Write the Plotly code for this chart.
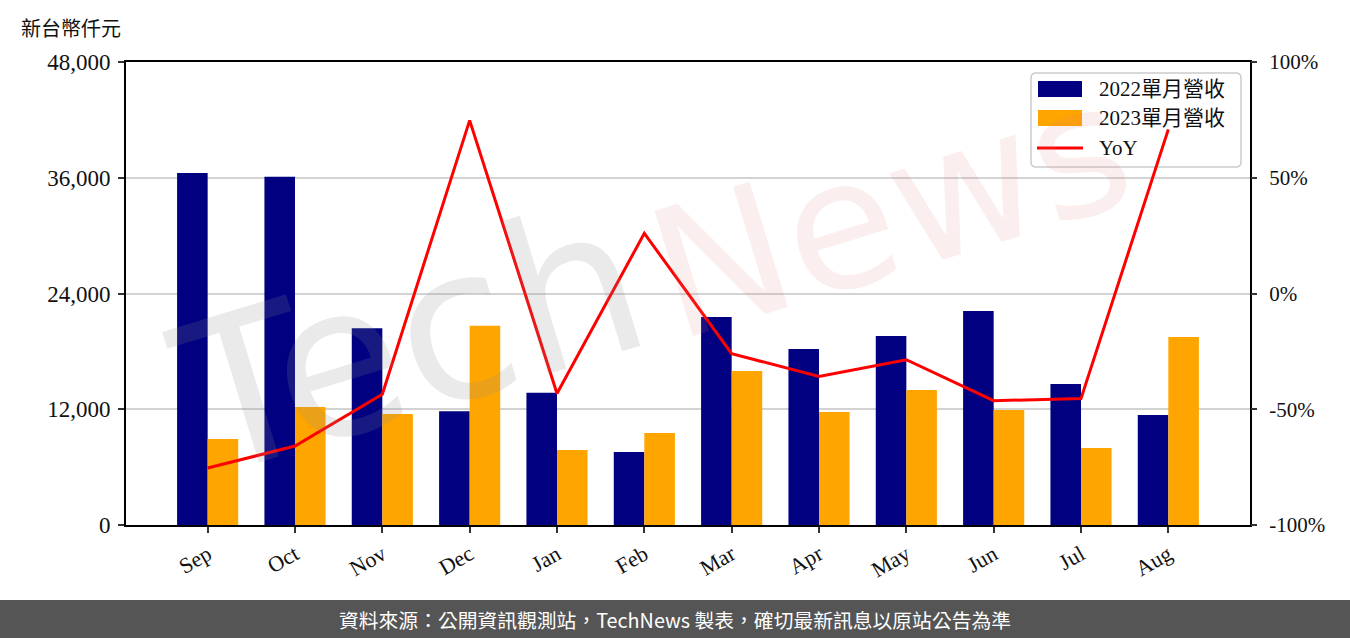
import plotly.graph_objects as go

months = ["Sep", "Oct", "Nov", "Dec", "Jan", "Feb", "Mar", "Apr", "May", "Jun", "Jul", "Aug"]
rev_2022 = [36500, 36100, 20400, 11800, 13700, 7570, 21560, 18250, 19600, 22190, 14620, 11400]
rev_2023 = [8920, 12230, 11510, 20660, 7780, 9540, 15970, 11720, 14000, 11920, 7980, 19490]
yoy = [-75.4, -65.9, -43.5, 74.8, -43.2, 26.0, -26.0, -35.8, -28.6, -46.3, -45.4, 70.9]

left_ticks = [0, 12000, 24000, 36000, 48000]
left_labels = ["0", "12,000", "24,000", "36,000", "48,000"]
right_ticks = [-100, -50, 0, 50, 100]
right_labels = ["-100%", "-50%", "0%", "50%", "100%"]
legend_names = ["2022單月營收", "2023單月營收", "YoY"]

SERIF = "Liberation Serif, Noto Sans CJK TC, serif"
NAVY, ORANGE, RED = "#000080", "#FFA500", "#FF0000"
x = list(range(len(months)))

fig = go.Figure()
fig.add_trace(go.Bar(x=x, y=rev_2022, name=legend_names[0], marker=dict(color=NAVY, line=dict(width=0))))
fig.add_trace(go.Bar(x=x, y=rev_2023, name=legend_names[1], marker=dict(color=ORANGE, line=dict(width=0))))
fig.add_trace(go.Scatter(x=x, y=yoy, name=legend_names[2], mode="lines",
                         line=dict(color=RED, width=3), yaxis="y2"))

W, H = 1350, 638
L, R, T, B = 126, 100, 62, 113
pw, ph = W - L - R, H - T - B

def px(p):
    return (p - L) / pw

def py(p):
    return (H - B - p) / ph

fig.update_layout(
    width=W, height=H,
    margin=dict(l=L, r=R, t=T, b=B),
    plot_bgcolor="white", paper_bgcolor="white",
    barmode="group", bargap=0.3, bargroupgap=0,
    font=dict(family=SERIF, size=22, color="#111111"),
    showlegend=False,
    xaxis=dict(
        range=[-0.935, 11.935], tickmode="array", tickvals=x, ticktext=months,
        tickangle=-30, showline=True, linecolor="black", linewidth=2, mirror=True,
        ticks="outside", ticklen=6, tickwidth=1.5, tickcolor="#333333",
        showgrid=False, zeroline=False, tickfont=dict(family=SERIF, size=22),
    ),
    yaxis=dict(
        range=[0, 48000], tickmode="array", tickvals=left_ticks, ticktext=left_labels,
        showline=True, linecolor="black", linewidth=2, mirror=True,
        ticks="outside", ticklen=6, tickwidth=1.5, tickcolor="#333333",
        showgrid=True, gridcolor="#d3d3d3", gridwidth=1.5, zeroline=False,
        tickfont=dict(family=SERIF, size=23), ticklabelstandoff=3,
    ),
    yaxis2=dict(
        range=[-100, 100], overlaying="y", side="right", tickmode="array",
        tickvals=right_ticks, ticktext=right_labels, showgrid=False, zeroline=False,
        ticks="outside", ticklen=6, tickwidth=1.5, tickcolor="#333333",
        showline=False, tickfont=dict(family=SERIF, size=21), ticklabelstandoff=8,
    ),
)

# watermark
fig.add_annotation(xref="paper", yref="paper", x=px(410), y=py(340), xanchor="center", yanchor="middle",
                   text="Tech", showarrow=False, textangle=-17,
                   font=dict(family="DejaVu Sans", size=210, color="rgba(140,140,140,0.18)"))
fig.add_annotation(xref="paper", yref="paper", x=px(890), y=py(210), xanchor="center", yanchor="middle",
                   text="News", showarrow=False, textangle=-17,
                   font=dict(family="DejaVu Sans", size=180, color="rgba(225,120,120,0.13)"))

# legend (drawn manually to match wide swatches); kept below the YoY line like the original
x0, x1, y0, y1, r = 1031, 1241, 73, 167, 5
path = (f"M {px(x0+r)},{py(y0)} L {px(x1-r)},{py(y0)} Q {px(x1)},{py(y0)} {px(x1)},{py(y0+r)} "
        f"L {px(x1)},{py(y1-r)} Q {px(x1)},{py(y1)} {px(x1-r)},{py(y1)} "
        f"L {px(x0+r)},{py(y1)} Q {px(x0)},{py(y1)} {px(x0)},{py(y1-r)} "
        f"L {px(x0)},{py(y0+r)} Q {px(x0)},{py(y0)} {px(x0+r)},{py(y0)} Z")
fig.add_shape(type="path", xref="paper", yref="paper", path=path,
              fillcolor="rgba(255,255,255,0.8)", line=dict(color="#cccccc", width=1.5), layer="below")
fig.add_shape(type="rect", xref="paper", yref="paper", x0=px(1038), x1=px(1082), y0=py(97), y1=py(81),
              fillcolor=NAVY, line=dict(width=0), layer="below")
fig.add_shape(type="rect", xref="paper", yref="paper", x0=px(1038), x1=px(1082), y0=py(126), y1=py(110),
              fillcolor=ORANGE, line=dict(width=0), layer="below")
fig.add_shape(type="line", xref="paper", yref="paper", x0=px(1037), x1=px(1083), y0=py(148), y1=py(148),
              line=dict(color=RED, width=3), layer="below")
for name, yc in zip(legend_names, [89, 118, 148]):
    fig.add_annotation(xref="paper", yref="paper", x=px(1097), y=py(yc), text=name,
                       showarrow=False, xanchor="left", yanchor="middle",
                       font=dict(family=SERIF, size=21, color="#111111"))

# footer band
fig.add_shape(type="rect", xref="paper", yref="paper",
              x0=px(0), x1=px(W), y0=py(H), y1=py(600),
              fillcolor="#555555", line=dict(width=0), layer="above")
fig.add_annotation(xref="paper", yref="paper", x=px(675), y=py(619),
                   text="資料來源：公開資訊觀測站，TechNews 製表，確切最新訊息以原站公告為準",
                   showarrow=False, font=dict(family="Noto Sans CJK TC, sans-serif", size=19.8, color="white"),
                   xanchor="center", yanchor="middle")

# unit label
fig.add_annotation(xref="paper", yref="paper", x=px(19), y=py(27),
                   text="新台幣仟元", showarrow=False, xanchor="left", yanchor="middle",
                   font=dict(family="Noto Sans CJK TC, sans-serif", size=20, color="#111111"))

fig.write_html("out.html", config={"displayModeBar": False},
               post_script="document.body.style.margin='0';document.body.style.overflow='hidden';")
